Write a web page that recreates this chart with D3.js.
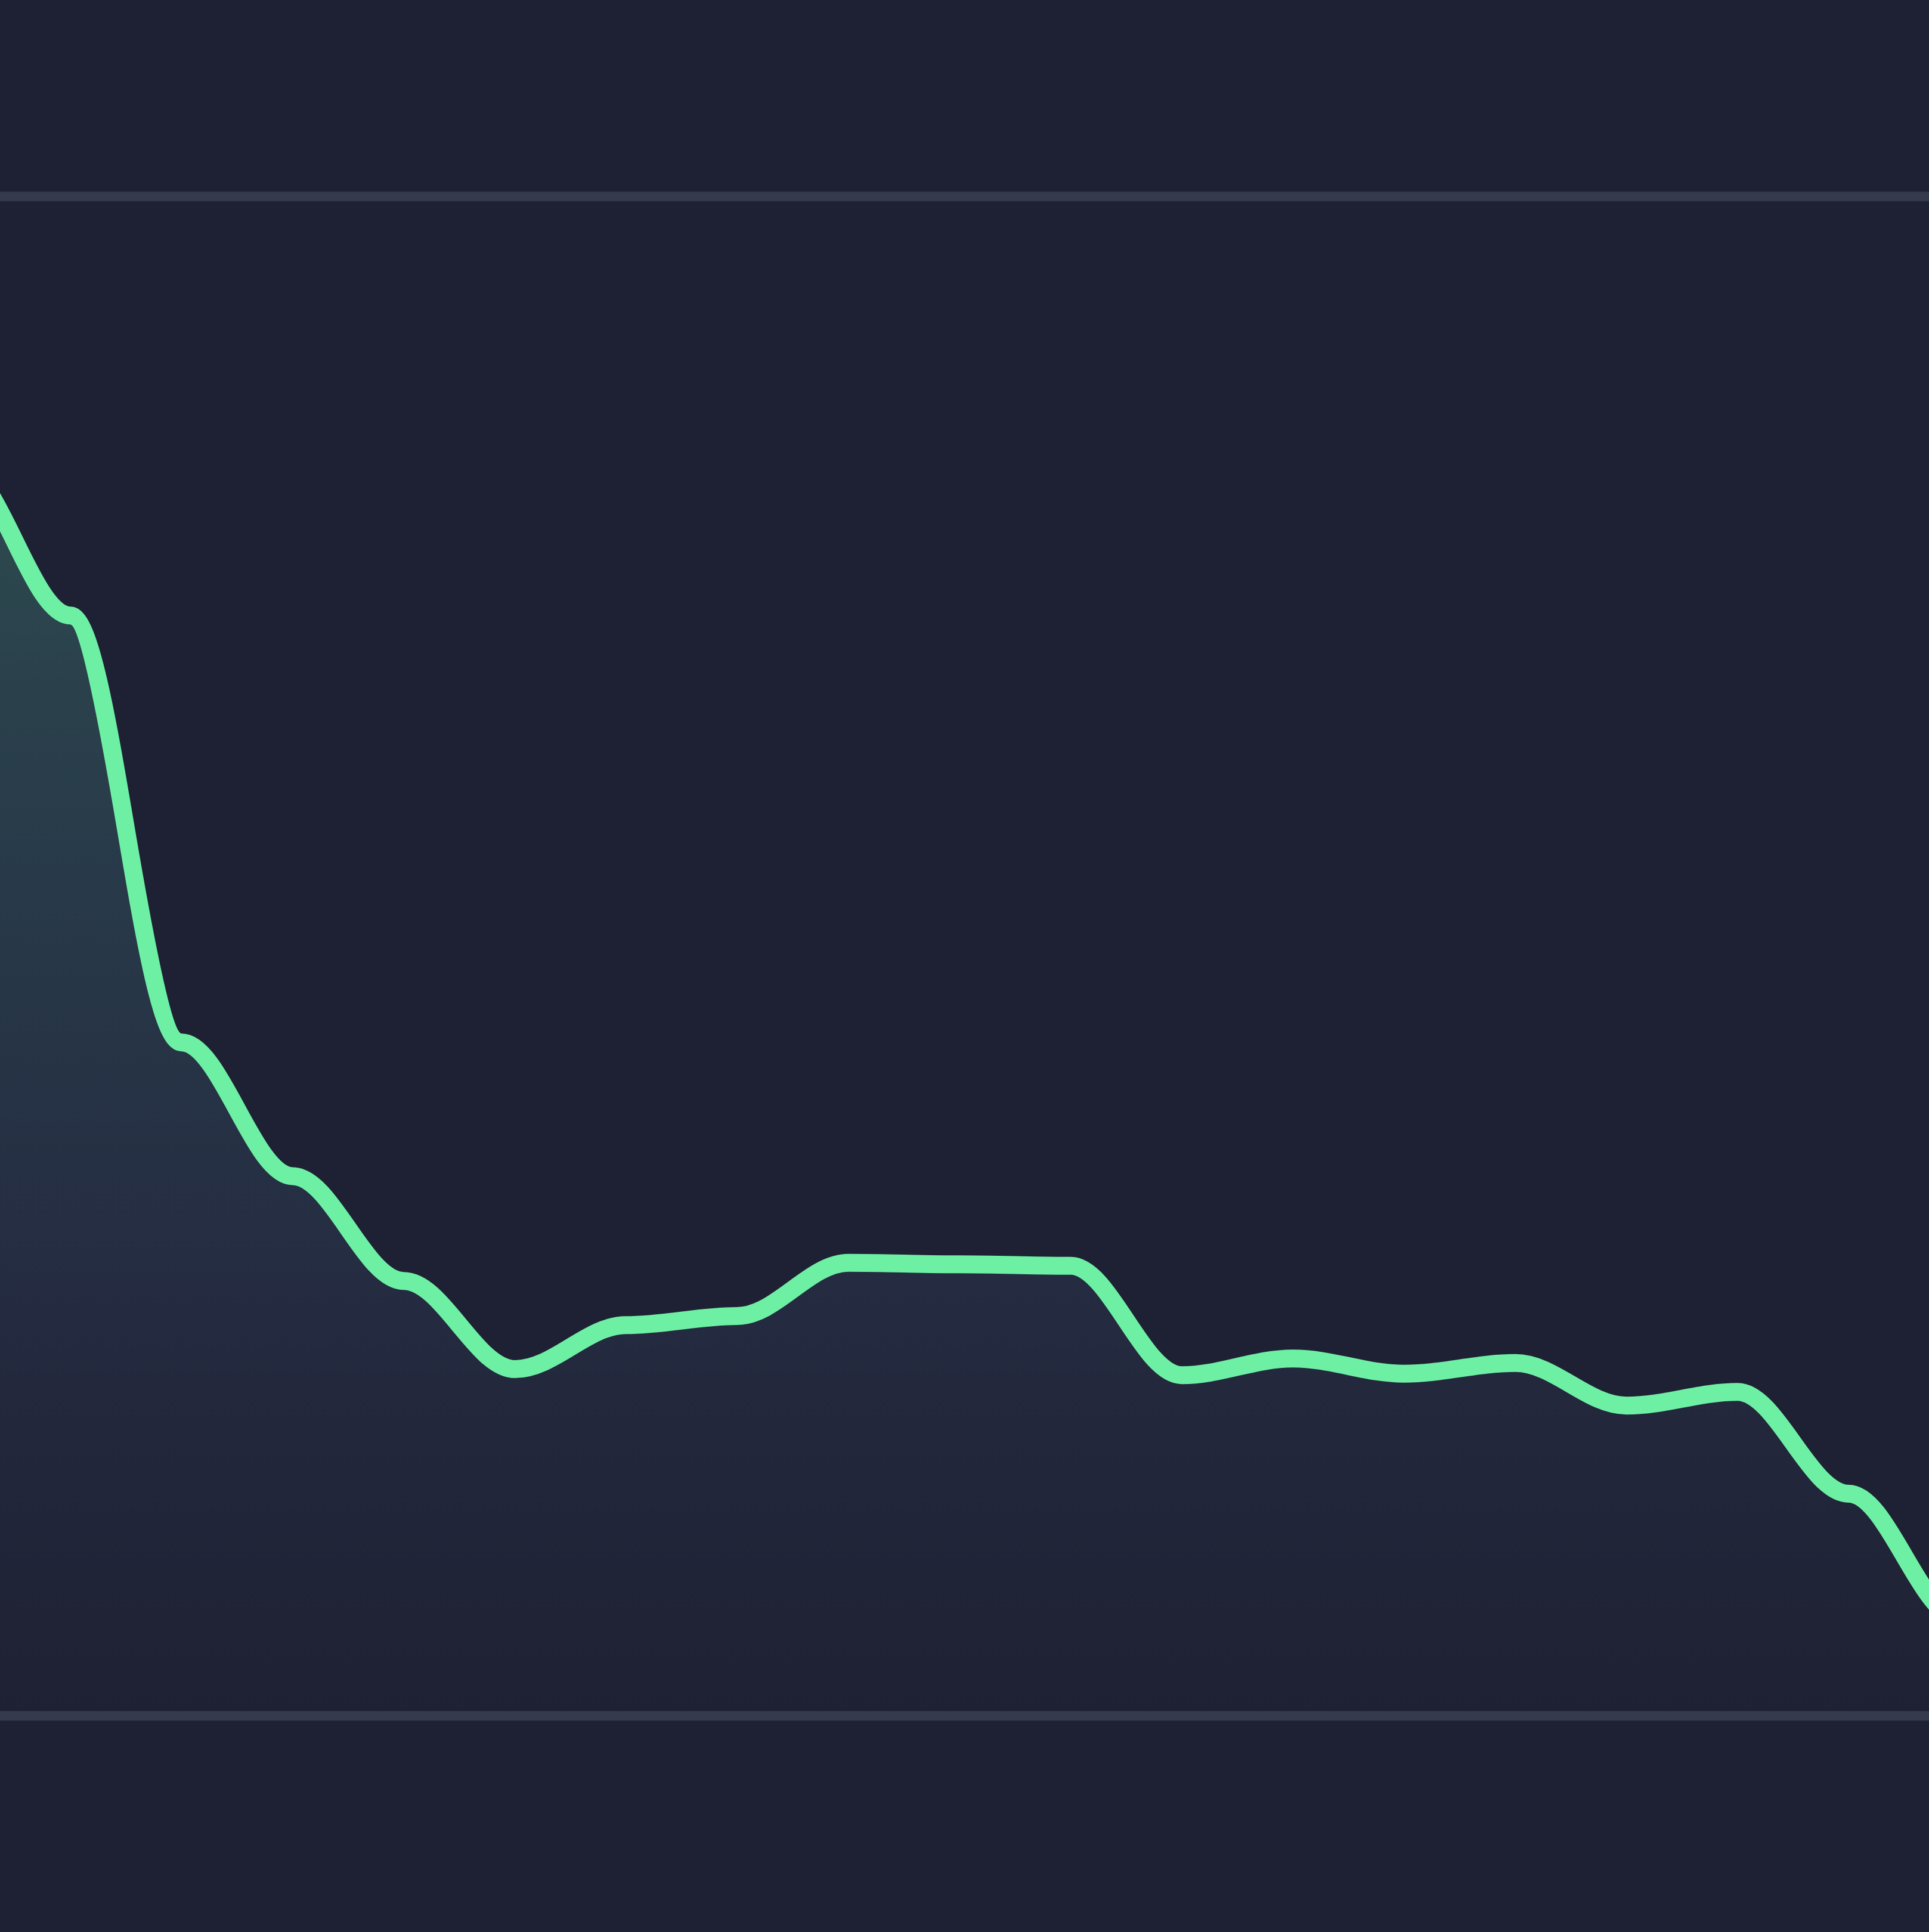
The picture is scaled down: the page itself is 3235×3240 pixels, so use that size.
<!DOCTYPE html>
<html>
<head>
<meta charset="utf-8">
<script src="https://cdn.jsdelivr.net/npm/d3@7"></script>
<style>
  html, body { margin: 0; padding: 0; background: #1e2133; overflow: hidden; }
  svg { display: block; }
</style>
</head>
<body>
<script>
// ---- data ----
const categories = d3.range(19);          // sample index (first and last extend past the visible frame)
const values = [82.2, 72.4, 44.3, 35.5, 28.6, 22.8, 25.7, 26.3, 29.8, 29.7, 29.6,
                22.4, 23.5, 22.5, 23.2, 20.4, 21.3, 14.6, 6.4];
const gridTicks = [0, 100];

// ---- layout ----
const W = 3235, H = 3240;
const svg = d3.select("body").append("svg").attr("width", W).attr("height", H);
svg.append("rect").attr("width", W).attr("height", H).attr("fill", "#1e2133");

const x = d3.scalePoint().domain(categories).range([-68.4, 3286.8]);
const y = d3.scaleLinear().domain([0, 100]).range([2877, 329]);

// curve: horizontal tangent at every point with short control arms
function curveShoulder(context) { return new Shoulder(context, 0.35); }
class Shoulder {
  constructor(context, a) { this._context = context; this._a = a; }
  areaStart() { this._line = 0; }
  areaEnd() { this._line = NaN; }
  lineStart() { this._point = 0; }
  lineEnd() {
    if (this._line || (this._line !== 0 && this._point === 1)) this._context.closePath();
    this._line = 1 - this._line;
  }
  point(px, py) {
    px = +px; py = +py;
    if (this._point === 0) {
      this._point = 1;
      if (this._line) this._context.lineTo(px, py); else this._context.moveTo(px, py);
    } else {
      this._point = 2;
      const dx = px - this._x0;
      this._context.bezierCurveTo(this._x0 + dx * this._a, this._y0, px - dx * this._a, py, px, py);
    }
    this._x0 = px; this._y0 = py;
  }
}

// gradient
const defs = svg.append("defs");
const grad = defs.append("linearGradient").attr("id", "fillGrad")
  .attr("gradientUnits", "userSpaceOnUse")
  .attr("x1", 0).attr("x2", 0).attr("y1", y(82)).attr("y2", y(0));
[["0%", "#64e6b4", 0.21], ["46%", "#61bfd1", 0.12], ["63%", "#6499c9", 0.10],
 ["76%", "#5c79b0", 0.07], ["100%", "#5c79b0", 0.0]].forEach(s =>
  grad.append("stop").attr("offset", s[0]).attr("stop-color", s[1]).attr("stop-opacity", s[2]));

// grid lines
const yAxis = d3.axisLeft(y).tickValues(gridTicks).tickSize(W + 20).tickFormat("");
const g = svg.append("g").attr("transform", `translate(${W},0)`).call(yAxis);
g.select(".domain").remove();
g.selectAll(".tick line").attr("stroke", "#363a4d").attr("stroke-width", 16);

const pts = categories.map((c, i) => ({ c, v: values[i] }));

// area
const area = d3.area().curve(curveShoulder)
  .x(d => x(d.c)).y0(y(0)).y1(d => y(d.v));
svg.append("path").datum(pts).attr("d", area).attr("fill", "url(#fillGrad)");

// line
const line = d3.line().curve(curveShoulder).x(d => x(d.c)).y(d => y(d.v));
svg.append("path").datum(pts).attr("d", line)
  .attr("fill", "none").attr("stroke", "#6ef0a4").attr("stroke-width", 30)
  .attr("stroke-linejoin", "round").attr("stroke-linecap", "round");
</script>
</body>
</html>
